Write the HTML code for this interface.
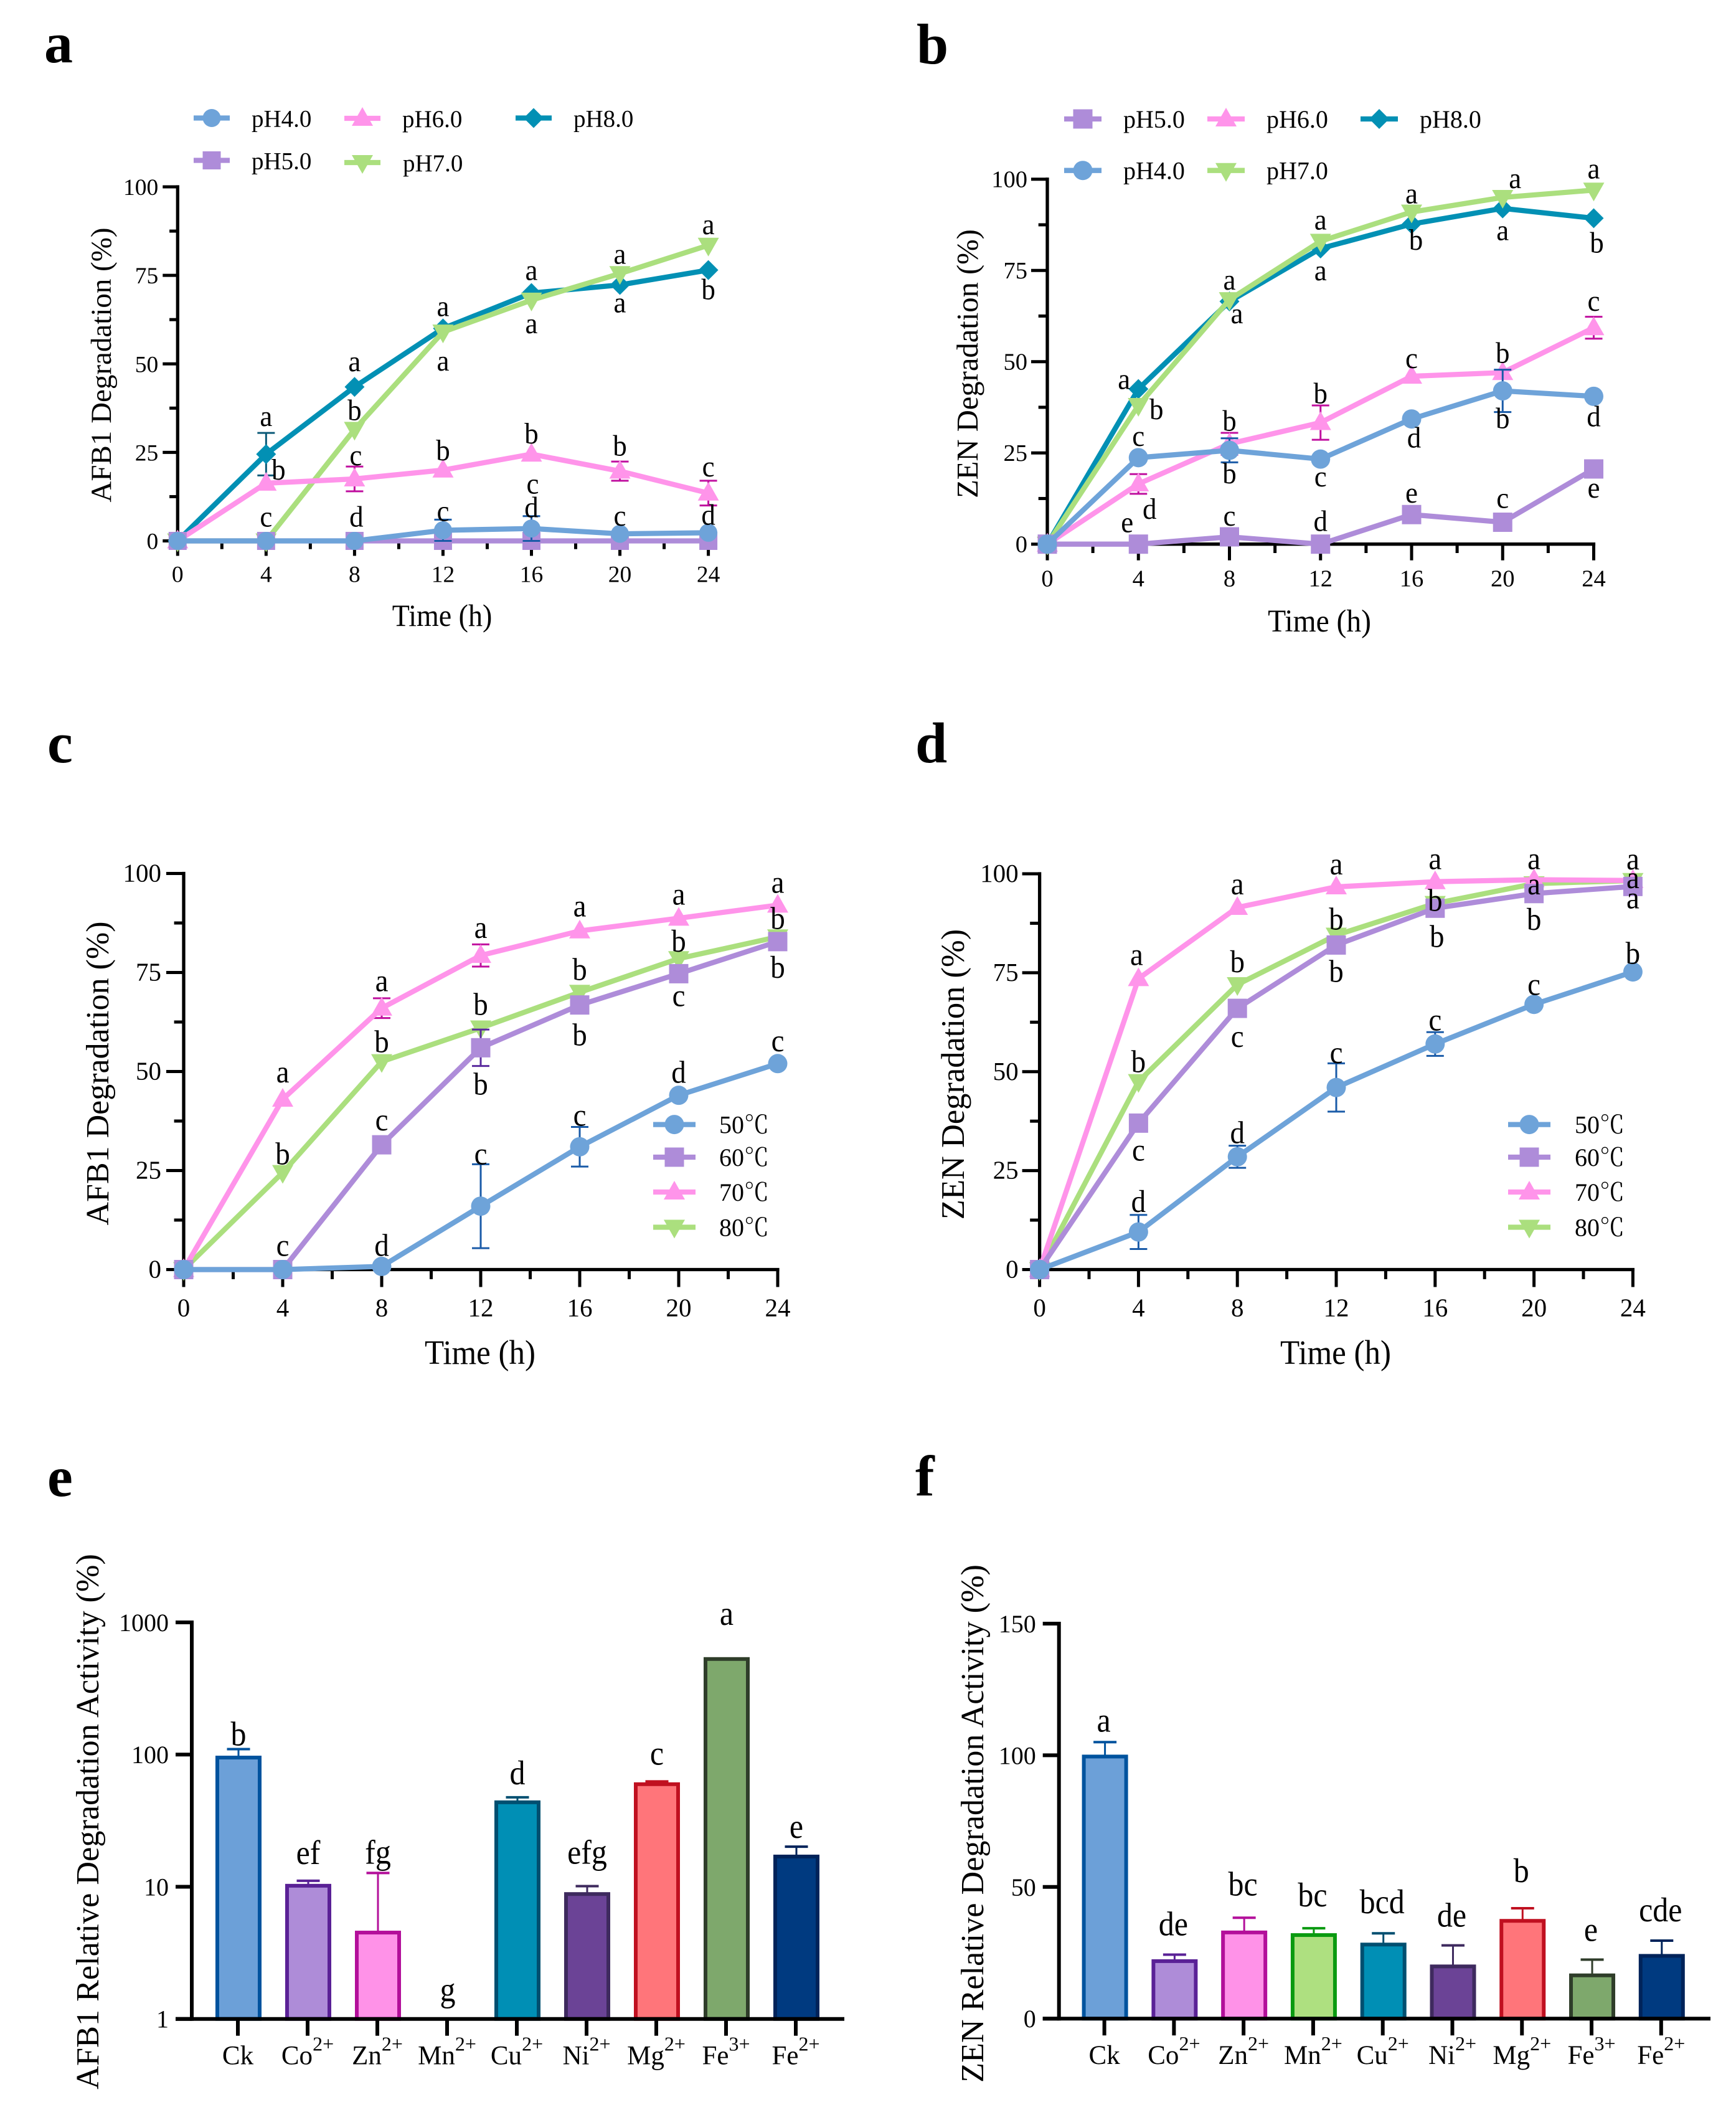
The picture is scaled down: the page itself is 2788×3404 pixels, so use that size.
<!DOCTYPE html>
<html lang="en">
<head>
<meta charset="utf-8">
<title>Degradation charts</title>
<style>
html,body{margin:0;padding:0;background:#fff;}
svg{display:block;font-family:"Liberation Serif","Noto Serif CJK SC",serif;}
</style>
</head>
<body>
<svg id="figure" xmlns="http://www.w3.org/2000/svg" width="2788" height="3404" viewBox="0 0 2788 3404">
<rect x="0" y="0" width="2788" height="3404" fill="#ffffff"/>
</svg>
<script>
// ---------- shared categories and ticks ----------
const hours = [0, 4, 8, 12, 16, 20, 24];
const linearYTicks = [0, 25, 50, 75, 100];

// ---------- panel a: AFB1 vs pH ----------
const aPh4 = [0, 0, 0, 3, 3.5, 2, 2.3];
const aPh5 = [0, 0, 0, 0, 0, 0, 0];
const aPh6 = [0, 16.3, 17.5, 20, 24.5, 19.7, 13.5];
const aPh7 = [0, 0, 31.5, 59, 68, 75.5, 83.5];
const aPh8 = [0, 24.5, 43.5, 60, 70, 72.3, 76.5];
const aPh4Err = [0, 0, 0, 3, 3.5, 0, 0];
const aPh6Err = [0, 0, 3.5, 0, 0, 2.7, 3.5];
const aPh8Err = [0, 6, 0, 0, 0, 0, 0];
const aPh4Letters = ['', 'c', 'd', 'c', 'd', 'c', 'd'];
const aPh5Letters = ['', '', '', '', 'c', '', ''];
const aPh6Letters = ['', 'b', 'c', 'b', 'b', 'b', 'c'];
const aPh7Letters = ['', '', 'b', 'a', 'a', 'a', 'a'];
const aPh8Letters = ['', 'a', 'a', 'a', 'a', 'a', 'b'];

// ---------- panel b: ZEN vs pH ----------
const bPh4 = [0, 23.7, 25.7, 23.3, 34.3, 42, 40.5];
const bPh5 = [0, 0, 2, 0, 8.1, 6, 20.6];
const bPh6 = [0, 16.5, 27.5, 33.3, 46, 47, 59.3];
const bPh7 = [0, 38, 67, 83, 91, 95, 97];
const bPh8 = [0, 42.5, 66.5, 81, 87.7, 92, 89.3];
const bPh4Err = [0, 0, 3.3, 0, 0, 5.8, 0];
const bPh6Err = [0, 2.7, 3, 4.7, 0, 0, 3];
const bPh4Letters = ['', 'c', 'b', 'c', 'd', 'b', 'd'];
const bPh5Letters = ['', 'e', 'c', 'd', 'e', 'c', 'e'];
const bPh6Letters = ['', 'd', 'b', 'b', 'c', 'b', 'c'];
const bPh7Letters = ['', 'b', 'a', 'a', 'a', 'a', 'a'];
const bPh8Letters = ['', 'a', 'a', 'a', 'b', 'a', 'b'];

// ---------- panel c: AFB1 vs temperature ----------
const c50 = [0, 0, 0.8, 16, 31, 44, 52];
const c60 = [0, 0, 31.5, 56, 66.8, 74.7, 82.8];
const c70 = [0, 43, 66, 79.3, 85.5, 88.7, 92];
const c80 = [0, 24.5, 52.5, 61, 70, 78.5, 84];
const c50Err = [0, 0, 0, 10.6, 5, 0, 0];
const c60Err = [0, 0, 0, 4.6, 0, 0, 0];
const c70Err = [0, 0, 2.5, 2.8, 0, 0, 0];
const c50Letters = ['', '', 'd', 'c', 'c', 'd', 'c'];
const c60Letters = ['', 'c', 'c', 'b', 'b', 'c', 'b'];
const c70Letters = ['', 'a', 'a', 'a', 'a', 'a', 'a'];
const c80Letters = ['', 'b', 'b', 'b', 'b', 'b', 'b'];

// ---------- panel d: ZEN vs temperature ----------
const d50 = [0, 9.5, 28.5, 46, 57, 67, 75.2];
const d60 = [0, 37, 66, 82, 91.3, 95, 96.8];
const d70 = [0, 73.5, 91.5, 96.7, 98, 98.5, 98.3];
const d80 = [0, 47.5, 72, 84.5, 92.5, 97.5, 98.3];
const d50Err = [0, 4.3, 2.8, 6.1, 3, 0, 0];
const d50Letters = ['', 'd', 'd', 'c', 'c', 'c', 'b'];
const d60Letters = ['', 'c', 'c', 'b', 'b', 'b', 'a'];
const d70Letters = ['', 'a', 'a', 'a', 'a', 'a', 'a'];
const d80Letters = ['', 'b', 'b', 'b', 'b', 'a', 'a'];

// ---------- panels e, f: metal ions ----------
const ionNames = ['Ck', 'Co', 'Zn', 'Mn', 'Cu', 'Ni', 'Mg', 'Fe', 'Fe'];
const ionCharges = ['', '2+', '2+', '2+', '2+', '2+', '2+', '3+', '2+'];
const eValues = [97, 10.4, 4.6, 1, 44.5, 9, 61, 540, 17.3];
const eErrors = [13, 0.7, 8.1, 0, 3, 1.1, 1.6, 0, 2.8];
const eLetters = ['b', 'ef', 'fg', 'g', 'd', 'efg', 'c', 'a', 'e'];
const eTicks = [1, 10, 100, 1000];
const fValues = [100, 22.3, 33.2, 32.2, 28.6, 20.3, 37.6, 16.9, 24.3];
const fErrors = [5, 2, 5.1, 2.1, 3.8, 7.5, 4.3, 5.5, 5.3];
const fLetters = ['a', 'de', 'bc', 'bc', 'bcd', 'de', 'b', 'e', 'cde'];
const fTicks = [0, 50, 100, 150];

// ---------- annotation nudges in pixels relative to the annotated mark (layout only) ----------
const aOffsets = {
  ph4: [[0,0],[0,-23],[3,-23],[0,-15],[0,-18],[0,-13],[0,-13]],
  ph5: [[0,0],[0,0],[0,0],[0,0],[2,-76],[0,0],[0,0]],
  ph6: [[0,0],[20,-6],[2,-22],[0,-16],[0,-17],[0,-25],[0,-27]],
  ph7: [[0,0],[0,0],[0,-15],[0,62],[0,53],[0,-16],[0,-18]],
  ph8: [[0,0],[0,-45],[0,-25],[0,-20],[0,-21],[0,44],[0,47]]
};
const bOffsets = {
  ph4: [[0,0],[0,-19],[0,53],[0,44],[4,46],[0,60],[0,48]],
  ph5: [[0,0],[-18,-19],[0,-18],[0,-21],[0,-19],[0,-23],[0,46]],
  ph6: [[0,0],[18,56],[0,-21],[0,-31],[0,-13],[0,-16],[0,-27]],
  ph7: [[0,0],[29,22],[0,-16],[0,-19],[0,-14],[20,-15],[0,-19]],
  ph8: [[0,0],[-23,0],[12,35],[0,51],[7,41],[0,51],[5,55]]
};
const cOffsets = {
  t50: [[0,0],[0,0],[0,-17],[0,-67],[0,-34],[0,-20],[0,-20]],
  t60: [[0,0],[0,-22],[0,-23],[0,75],[0,65],[0,52],[0,58]],
  t70: [[0,0],[0,-27],[0,-27],[0,-28],[0,-23],[0,-22],[0,-20]],
  t80: [[0,0],[0,-13],[0,-15],[0,-21],[0,-20],[0,-11],[0,-13]]
};
const dOffsets = {
  t50: [[0,0],[0,-32],[0,-22],[0,-39],[0,-22],[0,-15],[0,-13]],
  t60: [[0,0],[0,60],[0,62],[0,59],[3,62],[0,58],[0,35]],
  t70: [[0,0],[-3,-22],[0,-21],[0,-20],[0,-20],[0,-17],[0,-18]],
  t80: [[0,0],[0,-15],[0,-20],[0,-9],[0,12],[0,17],[0,12]]
};
const eLabelGaps = [-6, -27, -15, -28, -21, -36, -27, -53, -14];
const fLabelGaps = [-17, -31, -36, -35, -32, -30, -42, -30, -31];

// ---------- styles ----------
const BLUE = {line:'#6ea3d9', err:'#1a5ba8'};
const LILAC = {line:'#ae8cd9', err:'#5a2a9e'};
const PINK = {line:'#ff94ea', err:'#c0109f'};
const LIME = {line:'#abdf7e', err:'#3f9a2a'};
const TEAL = {line:'#0290b4', err:'#0b5a78'};
const barFills = ['#6ca0d8','#ae8cd8','#ff92e8','#aee080','#008fb5','#6b4396','#ff757a','#7ea86c','#003a80'];
const barStrokes = ['#00539e','#5a2196','#b30f9a','#0a9a10','#004f70','#3e2a5e','#c01020','#2f3d2a','#00235a'];

const NS = 'http://www.w3.org/2000/svg';
const root = document.getElementById('figure');

function el(parent, tag, attrs) {
  const node = document.createElementNS(NS, tag);
  for (const k in attrs) node.setAttribute(k, attrs[k]);
  parent.appendChild(node);
  return node;
}
function group(parent, name) {
  const g = document.createElementNS(NS, 'g');
  
  
  parent.appendChild(g);
  return g;
}
function label(parent, str, x, y, size, anchor, name, extra) {
  const t = el(parent, 'text', Object.assign({x: x, y: y, 'font-size': size, 'text-anchor': anchor, fill: '#000'}, extra || {}));
  t.textContent = str;
  
  
  return t;
}
// text that is slightly taller than its width implies, as in the source figure
function tallLabel(parent, str, x, y, size, stretch, name) {
  return label(parent, str, 0, 0, size, 'middle', name, {transform: 'translate(' + x + ' ' + y + ') scale(1 ' + stretch + ')'});
}
function marker(parent, shape, x, y, fill, name, r) {
  let m;
  if (shape === 'circle') m = el(parent, 'circle', {cx: x, cy: y, r: r, fill: fill});
  else if (shape === 'square') m = el(parent, 'rect', {x: x - r, y: y - r, width: 2 * r, height: 2 * r, fill: fill});
  else if (shape === 'up') m = el(parent, 'polygon', {points: [x, y - 18, x - 17, y + 12, x + 17, y + 12].join(' '), fill: fill});
  else if (shape === 'down') m = el(parent, 'polygon', {points: [x, y + 18, x - 17, y - 12, x + 17, y - 12].join(' '), fill: fill});
  else m = el(parent, 'polygon', {points: [x, y - 16, x + 16, y, x, y + 16, x - 16, y].join(' '), fill: fill});
  
  
  return m;
}
function axisLine(parent, x1, y1, x2, y2, w, name) {
  const l = el(parent, 'line', {x1: x1, y1: y1, x2: x2, y2: y2, stroke: '#000', 'stroke-width': w});
  
  
  return l;
}

function drawLinePanel(p) {
  const g = group(root, 'panel-' + p.id);
  const sx = h => p.x0 + (p.x24 - p.x0) * h / 24;
  const sy = v => p.y0 + (p.y100 - p.y0) * v / 100;

  label(g, p.id, p.letterX, p.letterY, 92, 'start', 'panel-letter-' + p.id, {'font-weight': 'bold'});

  // axes
  axisLine(g, p.x0, sy(100) - 2.6, p.x0, p.y0 + 2.6, 5.3, 'y-axis-line');
  axisLine(g, p.x0, p.y0, p.x24 + 2.6, p.y0, 5.3, 'x-axis-line');
  for (let v = 0; v <= 100; v += 12.5) {
    const major = v % 25 === 0;
    axisLine(g, p.x0 - (major ? p.tick : p.tick * 0.55), sy(v), p.x0, sy(v), 5, major ? 'y-major-tick' : 'y-minor-tick');
  }
  for (let h = 0; h <= 24; h += 2) {
    const major = h % 4 === 0;
    axisLine(g, sx(h), p.y0, sx(h), p.y0 + (major ? p.tick : p.tick * 0.55), 5, major ? 'x-major-tick' : 'x-minor-tick');
  }
  linearYTicks.forEach(v => {
    label(g, String(v), p.x0 - p.yLabelGap, sy(v) + 13, p.tickSize, 'end', 'y-tick-label');
  });
  hours.forEach(h => {
    label(g, String(h), sx(h), p.y0 + p.xLabelGap, p.tickSize, 'middle', 'x-tick-label');
  });
  tallLabel(g, 'Time (h)', p.xTitle[0], p.xTitle[1], p.xTitle[2], 1.07, 'x-axis-title');
  label(g, p.yTitle[3], 0, 0, p.yTitle[2], 'middle', 'y-axis-title', {transform: 'translate(' + p.yTitle[0] + ' ' + p.yTitle[1] + ') rotate(-90)'});

  // series
  p.series.forEach(s => {
    const sg = group(g, 'series-' + s.name);
    if (s.err) {
      s.values.forEach((v, i) => {
        if (!s.err[i]) return;
        const x = sx(hours[i]);
        const eb = el(sg, 'path', {
          d: 'M' + x + ' ' + sy(v - s.err[i]) + 'V' + sy(v + s.err[i]) +
             'M' + (x - 14) + ' ' + sy(v - s.err[i]) + 'H' + (x + 14) +
             'M' + (x - 14) + ' ' + sy(v + s.err[i]) + 'H' + (x + 14),
          stroke: s.style.err, 'stroke-width': 3, fill: 'none'
        });
        
        
      });
    }
    const pts = s.values.map((v, i) => sx(hours[i]) + ',' + sy(v)).join(' ');
    const pl = el(sg, 'polyline', {points: pts, fill: 'none', stroke: s.style.line, 'stroke-width': 8.3, 'stroke-linejoin': 'round'});
    
    
    s.values.forEach((v, i) => {
      marker(sg, s.shape, sx(hours[i]), sy(v), s.style.line, 'data-point', p.markerR);
    });
  });

  // significance letters
  p.series.forEach(s => {
    s.values.forEach((v, i) => {
      if (!s.letters[i]) return;
      tallLabel(g, s.letters[i], sx(hours[i]) + s.offsets[i][0], sy(v) + s.offsets[i][1], p.letterSize, 1.07, 'significance-letter');
    });
  });

  // legend
  const lg = group(g, 'legend');
  p.legend.forEach(e => {
    const eg = group(lg, 'legend-entry');
    const sw = el(eg, 'line', {x1: e.cx - p.swatch, y1: e.y, x2: e.cx + p.swatch, y2: e.y, stroke: e.style.line, 'stroke-width': 8.3});
    
    
    marker(eg, e.shape, e.cx, e.y, e.style.line, 'legend-marker', p.markerR);
    label(eg, e.text, e.tx, e.y + 14, p.legendSize, 'start', 'legend-label');
  });
}

function drawBarPanel(p) {
  const g = group(root, 'panel-' + p.id);
  const sx = i => p.xFirst + (p.xLast - p.xFirst) * i / 8;
  label(g, p.id, p.letterX, p.letterY, 92, 'start', 'panel-letter-' + p.id, {'font-weight': 'bold'});

  p.values.forEach((v, i) => {
    const top = p.sy(v);
    const x = sx(i) + 1;
    const bg = group(g, 'bar-group-' + ionNames[i].toLowerCase());
    if (p.errors[i]) {
      const tip = p.sy(v + p.errors[i]);
      const eb = el(bg, 'path', {d: 'M' + x + ' ' + top + 'V' + tip, stroke: barStrokes[p.colorIdx(i)], 'stroke-width': 3, fill: 'none'});
      
      
      const cap = el(bg, 'line', {x1: x - 18.5, y1: tip, x2: x + 18.5, y2: tip, stroke: barStrokes[p.colorIdx(i)], 'stroke-width': 4});
      
      
    }
    if (p.y0 - top > 1) {
      const r = el(bg, 'rect', {x: x - 34, y: top + 2, width: 68, height: p.y0 - top - 2, fill: barFills[p.colorIdx(i)], stroke: barStrokes[p.colorIdx(i)], 'stroke-width': 6});
      
      
    }
    const tip = p.sy(v + p.errors[i]);
    tallLabel(bg, p.letters[i], x + (p.labelDx || 0), tip + p.gaps[i], 50, 1.1, 'significance-letter');
  });

  axisLine(g, p.axisX, p.yTop - 3, p.axisX, p.y0 + 3, 6, 'y-axis-line');
  axisLine(g, p.axisX - 26, p.y0, p.xEnd, p.y0, 6, 'x-axis-line');
  p.ticks.forEach(v => {
    const y = p.sy(v);
    axisLine(g, p.axisX - 26, y, p.axisX, y, 6, 'y-major-tick');
    label(g, String(v), p.axisX - 37, y + 14, 40, 'end', 'y-tick-label');
  });
  ionNames.forEach((n, i) => {
    axisLine(g, sx(i), p.y0, sx(i), p.y0 + 27, 6, 'x-major-tick');
    const t = label(g, '', sx(i), p.y0 + 73, 43, 'middle', 'x-tick-label');
    const base = el(t, 'tspan', {});
    base.textContent = n;
    if (ionCharges[i]) {
      const sup = el(t, 'tspan', {'font-size': 32, dy: -22});
      sup.textContent = ionCharges[i];
    }
  });
  label(g, p.title[3], 0, 0, p.title[2], 'middle', 'y-axis-title', {transform: 'translate(' + p.title[0] + ' ' + p.title[1] + ') rotate(-90)'});
}

drawLinePanel({
  id: 'a', letterX: 71, letterY: 100, x0: 285.3, x24: 1137.6, y0: 868.5, y100: 300,
  tick: 24, yLabelGap: 31, xLabelGap: 66, tickSize: 37.5, letterSize: 45, swatch: 29, legendSize: 39, markerR: 14.5,
  xTitle: [710, 1005, 46], yTitle: [178, 586, 47, 'AFB1 Degradation (%)'],
  series: [
    {name: 'ph8', values: aPh8, err: aPh8Err, style: TEAL, shape: 'diamond', letters: aPh8Letters, offsets: aOffsets.ph8},
    {name: 'ph7', values: aPh7, style: LIME, shape: 'down', letters: aPh7Letters, offsets: aOffsets.ph7},
    {name: 'ph6', values: aPh6, err: aPh6Err, style: PINK, shape: 'up', letters: aPh6Letters, offsets: aOffsets.ph6},
    {name: 'ph5', values: aPh5, style: LILAC, shape: 'square', letters: aPh5Letters, offsets: aOffsets.ph5},
    {name: 'ph4', values: aPh4, err: aPh4Err, style: BLUE, shape: 'circle', letters: aPh4Letters, offsets: aOffsets.ph4}
  ],
  legend: [
    {text: 'pH4.0', cx: 340, y: 189.5, tx: 404, style: BLUE, shape: 'circle'},
    {text: 'pH5.0', cx: 340, y: 257.5, tx: 404, style: LILAC, shape: 'square'},
    {text: 'pH6.0', cx: 582, y: 190, tx: 646, style: PINK, shape: 'up'},
    {text: 'pH7.0', cx: 582, y: 261, tx: 647, style: LIME, shape: 'down'},
    {text: 'pH8.0', cx: 857, y: 189.5, tx: 921, style: TEAL, shape: 'diamond'}
  ]
});

drawLinePanel({
  id: 'b', letterX: 1472, letterY: 102, x0: 1682, x24: 2559.5, y0: 873.7, y100: 287.7,
  tick: 26, yLabelGap: 32, xLabelGap: 68, tickSize: 38.5, letterSize: 45, swatch: 30, legendSize: 40, markerR: 15.5,
  xTitle: [2119, 1014, 47.5], yTitle: [1570, 584, 48.6, 'ZEN Degradation (%)'],
  series: [
    {name: 'ph8', values: bPh8, style: TEAL, shape: 'diamond', letters: bPh8Letters, offsets: bOffsets.ph8},
    {name: 'ph7', values: bPh7, style: LIME, shape: 'down', letters: bPh7Letters, offsets: bOffsets.ph7},
    {name: 'ph6', values: bPh6, err: bPh6Err, style: PINK, shape: 'up', letters: bPh6Letters, offsets: bOffsets.ph6},
    {name: 'ph5', values: bPh5, style: LILAC, shape: 'square', letters: bPh5Letters, offsets: bOffsets.ph5},
    {name: 'ph4', values: bPh4, err: bPh4Err, style: BLUE, shape: 'circle', letters: bPh4Letters, offsets: bOffsets.ph4}
  ],
  legend: [
    {text: 'pH5.0', cx: 1739, y: 191, tx: 1804, style: LILAC, shape: 'square'},
    {text: 'pH6.0', cx: 1969, y: 191, tx: 2034, style: PINK, shape: 'up'},
    {text: 'pH8.0', cx: 2215, y: 191, tx: 2280, style: TEAL, shape: 'diamond'},
    {text: 'pH4.0', cx: 1739, y: 273.7, tx: 1804, style: BLUE, shape: 'circle'},
    {text: 'pH7.0', cx: 1969, y: 273.7, tx: 2034, style: LIME, shape: 'down'}
  ]
});

drawLinePanel({
  id: 'c', letterX: 76, letterY: 1224, x0: 295, x24: 1249, y0: 2038.5, y100: 1402.5,
  tick: 28, yLabelGap: 36, xLabelGap: 75, tickSize: 41, letterSize: 47, swatch: 34, legendSize: 40, markerR: 15.5,
  xTitle: [771, 2190, 51], yTitle: [174, 1723.5, 52, 'AFB1 Degradation (%)'],
  series: [
    {name: 't80', values: c80, style: LIME, shape: 'down', letters: c80Letters, offsets: cOffsets.t80},
    {name: 't70', values: c70, err: c70Err, style: PINK, shape: 'up', letters: c70Letters, offsets: cOffsets.t70},
    {name: 't60', values: c60, err: c60Err, style: LILAC, shape: 'square', letters: c60Letters, offsets: cOffsets.t60},
    {name: 't50', values: c50, err: c50Err, style: BLUE, shape: 'circle', letters: c50Letters, offsets: cOffsets.t50}
  ],
  legend: [
    {text: '50℃', cx: 1083, y: 1805.6, tx: 1155, style: BLUE, shape: 'circle'},
    {text: '60℃', cx: 1083, y: 1858, tx: 1155, style: LILAC, shape: 'square'},
    {text: '70℃', cx: 1083, y: 1914, tx: 1155, style: PINK, shape: 'up'},
    {text: '80℃', cx: 1083, y: 1970.5, tx: 1155, style: LIME, shape: 'down'}
  ]
});

drawLinePanel({
  id: 'd', letterX: 1470, letterY: 1224, x0: 1669.6, x24: 2622.4, y0: 2038.5, y100: 1403,
  tick: 28, yLabelGap: 34, xLabelGap: 75, tickSize: 41, letterSize: 47, swatch: 34, legendSize: 40, markerR: 15.5,
  xTitle: [2145, 2190, 51], yTitle: [1548, 1725, 52.5, 'ZEN Degradation (%)'],
  series: [
    {name: 't80', values: d80, style: LIME, shape: 'down', letters: d80Letters, offsets: dOffsets.t80},
    {name: 't70', values: d70, style: PINK, shape: 'up', letters: d70Letters, offsets: dOffsets.t70},
    {name: 't60', values: d60, style: LILAC, shape: 'square', letters: d60Letters, offsets: dOffsets.t60},
    {name: 't50', values: d50, err: d50Err, style: BLUE, shape: 'circle', letters: d50Letters, offsets: dOffsets.t50}
  ],
  legend: [
    {text: '50℃', cx: 2456, y: 1805.6, tx: 2529, style: BLUE, shape: 'circle'},
    {text: '60℃', cx: 2456, y: 1858, tx: 2529, style: LILAC, shape: 'square'},
    {text: '70℃', cx: 2456, y: 1914, tx: 2529, style: PINK, shape: 'up'},
    {text: '80℃', cx: 2456, y: 1970.5, tx: 2529, style: LIME, shape: 'down'}
  ]
});

drawBarPanel({
  id: 'e', letterX: 76, letterY: 2402, axisX: 308, xEnd: 1356, yTop: 2605, y0: 3241.7,
  xFirst: 382, xLast: 1278, values: eValues, errors: eErrors, letters: eLetters, gaps: eLabelGaps, ticks: eTicks,
  sy: v => 3241.7 - (3241.7 - 2605) * Math.log10(Math.max(v, 1)) / 3,
  colorIdx: i => i,
  title: [158, 2925, 52.3, 'AFB1 Relative Degradation Activity (%)']
});

drawBarPanel({
  id: 'f', letterX: 1470, letterY: 2401, axisX: 1700.7, xEnd: 2747, yTop: 2607, y0: 3241.2,
  xFirst: 1773.6, xLast: 2667.8, values: fValues, errors: fErrors, letters: fLetters, gaps: fLabelGaps, ticks: fTicks,
  sy: v => 3241.2 - (3241.2 - 2607) * v / 150,
  colorIdx: i => i,
  labelDx: -2,
  title: [1579, 2928, 52.2, 'ZEN Relative Degradation Activity (%)']
});
</script>
</body>
</html>
